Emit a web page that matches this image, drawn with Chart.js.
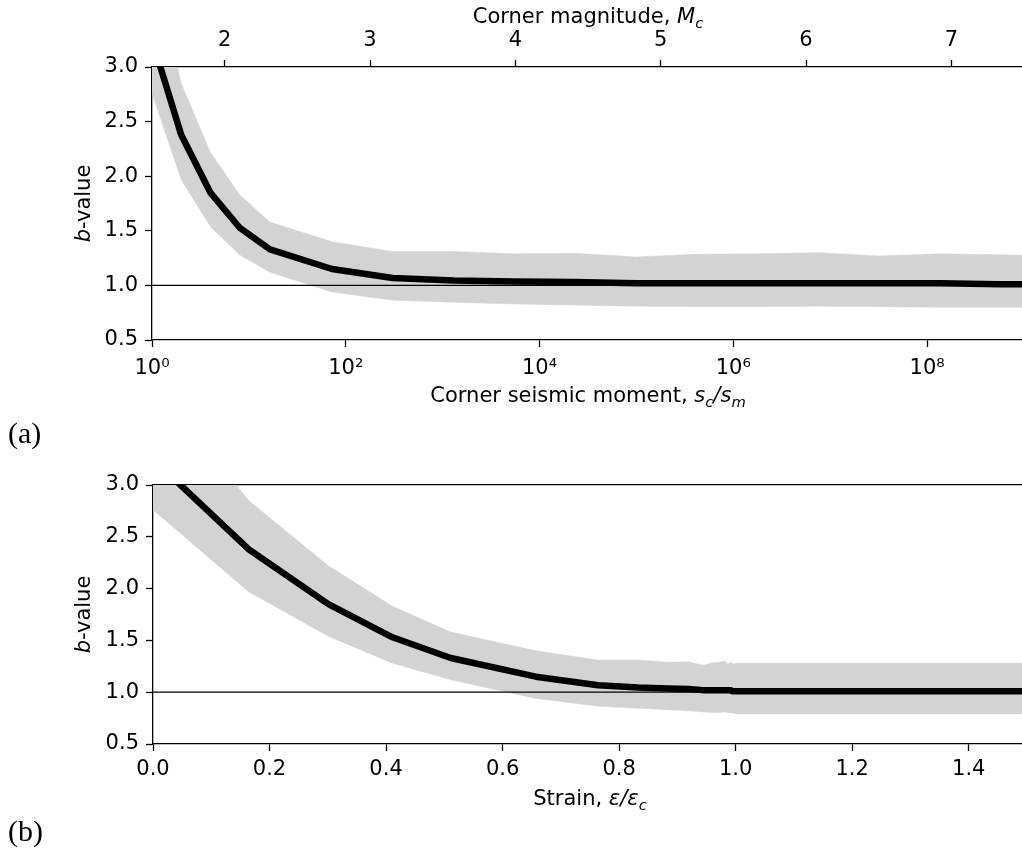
<!DOCTYPE html>
<html><head><meta charset="utf-8">
<script src="https://cdn.jsdelivr.net/npm/chart.js@4.4.1/dist/chart.umd.min.js"></script>
<style>
html,body{margin:0;padding:0;overflow:hidden;background:#fff;width:1022px;height:852px;}
#c1{position:absolute;left:0;top:0;}
#c2{position:absolute;left:0;top:450px;}
</style></head><body>
<canvas id="c1" width="1030" height="450"></canvas>
<canvas id="c2" width="1030" height="402"></canvas>
<script>
// ---- data ----
const momentRatio = [1, 2, 4, 8, 16.5, 72, 305, 1300, 5500, 23000, 1.0e5, 4.2e5, 1.8e6, 7.6e6, 3.2e7, 1.35e8, 5.7e8, 2.4e9];
const strain      = [0, 0.164, 0.301, 0.411, 0.511, 0.657, 0.764, 0.833, 0.884, 0.919, 0.944, 0.961, 0.973, 0.981, 0.987, 0.991, 0.994, 0.997];
const bMid   = [3.25, 2.38, 1.85, 1.53, 1.33, 1.15, 1.068, 1.045, 1.035, 1.03, 1.02, 1.02, 1.02, 1.02, 1.02, 1.02, 1.01, 1.01];
const bUpper = [4.00, 2.85, 2.22, 1.83, 1.58, 1.40, 1.31, 1.31, 1.29, 1.295, 1.26, 1.285, 1.29, 1.30, 1.27, 1.29, 1.28, 1.27];
const bLower = [2.76, 1.97, 1.54, 1.28, 1.12, 0.94, 0.865, 0.845, 0.83, 0.82, 0.81, 0.805, 0.805, 0.81, 0.805, 0.80, 0.80, 0.80];
const plateauStrain = [1.0, 1.6];
const plateauMid    = [1.01, 1.01];
const plateauUpper  = [1.28, 1.28];
const plateauLower  = [0.79, 0.79];
const referenceB = [1.0, 1.0];
const momentRange = [1, 1e9];
const magnitudeRange = [1.5, 7.5];
const strainRange = [0, 1.5];
const bRange = [0.5, 3.0];
const momentTicks = [1, 1e2, 1e4, 1e6, 1e8];
const momentTickLabels = ['10⁰', '10²', '10⁴', '10⁶', '10⁸'];
const magnitudeTicks = [2, 3, 4, 5, 6, 7];
const strainTicks = [0, 0.2, 0.4, 0.6, 0.8, 1.0, 1.2, 1.4];
const bTicks = [0.5, 1.0, 1.5, 2.0, 2.5, 3.0];

// ---- styling ----
const FS = 21;
const FAM = '"DejaVu Sans"';
Chart.defaults.font.family = 'DejaVu Sans';
Chart.defaults.font.size = FS;
Chart.defaults.color = '#000';
const BAND = '#d3d3d3';

function pts(xs, ys) { return xs.map((x, i) => ({x: x, y: ys[i]})); }

function drawRich(ctx, segs, x, y, rot, alignLeft) {
  ctx.save();
  ctx.translate(x, y);
  if (rot) ctx.rotate(rot);
  let w = 0;
  const parts = segs.map(s => {
    const size = s.size || (s.sub ? FS * 0.7 : FS);
    const font = (s.it ? 'italic ' : '') + size + 'px ' + (s.fam || FAM);
    ctx.font = font;
    const m = ctx.measureText(s.t).width;
    w += m;
    return {s, font, m};
  });
  let cx = alignLeft ? 0 : -w / 2;
  ctx.fillStyle = '#000';
  ctx.textBaseline = 'alphabetic';
  ctx.textAlign = 'left';
  for (const p of parts) {
    ctx.font = p.font;
    ctx.fillText(p.s.t, cx, p.s.sub ? FS * 0.22 : 0);
    cx += p.m;
  }
  ctx.restore();
}

function labelPlugin(items) {
  return {
    id: 'richLabels',
    afterDraw(chart) {
      const ctx = chart.ctx;
      items.forEach(it => drawRich(ctx, it.segs, it.x, it.y, it.rot, it.left));
    }
  };
}

function axisStyle(extra) {
  return Object.assign({
    grid: {display: true, drawOnChartArea: false, drawTicks: true, tickLength: 7, tickWidth: 1.3, tickColor: '#000', color: '#000'},
    border: {display: true, color: '#000', width: 1.3},
  }, extra);
}

function datasets(xs, mid, up, lo, refX) {
  return [
    {data: pts(xs, mid), borderColor: '#000', borderWidth: 6.5, pointRadius: 0, tension: 0, fill: false, order: 0, borderJoinStyle: 'round', xAxisID: 'x', yAxisID: 'y'},
    {data: pts(refX, referenceB), borderColor: '#000', borderWidth: 1.3, pointRadius: 0, fill: false, order: 1, xAxisID: 'x', yAxisID: 'y'},
    {data: pts(xs, up), borderColor: BAND, borderWidth: 0.5, backgroundColor: BAND, pointRadius: 0, tension: 0, fill: '+1', order: 3, xAxisID: 'x', yAxisID: 'y'},
    {data: pts(xs, lo), borderColor: BAND, borderWidth: 0.5, backgroundColor: BAND, pointRadius: 0, tension: 0, fill: false, order: 4, xAxisID: 'x', yAxisID: 'y'}
  ];
}

const common = {
  responsive: false,
  animation: false,
  events: [],
  plugins: {legend: {display: false}, tooltip: {enabled: false}},
};

// ---- panel (a) ----
new Chart(document.getElementById('c1'), {
  type: 'line',
  data: {datasets: datasets(momentRatio, bMid, bUpper, bLower, momentRange)},
  options: Object.assign({}, common, {
    layout: {padding: {left: 0, top: 0, right: 6, bottom: 0}},
    scales: {
      x: axisStyle({
        type: 'logarithmic', position: 'bottom', min: momentRange[0], max: momentRange[1],
        afterBuildTicks: s => { s.ticks = momentTicks.map(v => ({value: v})); },
        ticks: {padding: 9, maxRotation: 0, autoSkip: false, callback: (v, i) => momentTickLabels[i]},
        afterFit: s => { s.height = 450 - 340; }
      }),
      xTop: axisStyle({
        type: 'linear', position: 'top', min: magnitudeRange[0], max: magnitudeRange[1],
        afterBuildTicks: s => { s.ticks = magnitudeTicks.map(v => ({value: v})); },
        ticks: {padding: 7, maxRotation: 0, autoSkip: false, callback: v => String(v)},
        afterFit: s => { s.height = 67; }
      }),
      y: axisStyle({
        type: 'linear', position: 'left', min: bRange[0], max: bRange[1],
        afterBuildTicks: s => { s.ticks = bTicks.map(v => ({value: v})); },
        ticks: {padding: 7, autoSkip: false, callback: v => v.toFixed(1)},
        afterFit: s => { s.width = 152; }
      })
    }
  }),
  plugins: [labelPlugin([
    {segs: [{t: 'Corner magnitude, '}, {t: 'M', it: true}, {t: 'c', it: true, sub: true}], x: 588, y: 23},
    {segs: [{t: 'Corner seismic moment, '}, {t: 's', it: true}, {t: 'c', it: true, sub: true}, {t: '/', it: true}, {t: 's', it: true}, {t: 'm', it: true, sub: true}], x: 588, y: 402},
    {segs: [{t: 'b', it: true}, {t: '-value'}], x: 90, y: 203.5, rot: -Math.PI / 2},
    {segs: [{t: '(a)', size: 30, fam: '"Liberation Serif"'}], x: 8, y: 443, left: true}
  ])]
});

// ---- panel (b) ----
new Chart(document.getElementById('c2'), {
  type: 'line',
  data: {datasets: datasets(strain.concat(plateauStrain), bMid.concat(plateauMid), bUpper.concat(plateauUpper), bLower.concat(plateauLower), strainRange)},
  options: Object.assign({}, common, {
    layout: {padding: {left: 0, top: 0, right: 3, bottom: 0}},
    scales: {
      x: axisStyle({
        type: 'linear', position: 'bottom', min: strainRange[0], max: strainRange[1],
        afterBuildTicks: s => { s.ticks = strainTicks.map(v => ({value: v})); },
        ticks: {padding: 5.5, maxRotation: 0, autoSkip: false, callback: v => v.toFixed(1)},
        afterFit: s => { s.height = 402 - 294; }
      }),
      xTop: {
        type: 'linear', position: 'top', min: strainRange[0], max: strainRange[1],
        grid: {display: false, drawTicks: false},
        border: {display: true, color: '#000', width: 1.3},
        ticks: {display: false},
        afterFit: s => { s.height = 35; }
      },
      y: axisStyle({
        type: 'linear', position: 'left', min: bRange[0], max: bRange[1],
        afterBuildTicks: s => { s.ticks = bTicks.map(v => ({value: v})); },
        ticks: {padding: 7, autoSkip: false, callback: v => v.toFixed(1)},
        afterFit: s => { s.width = 153; }
      })
    }
  }),
  plugins: [labelPlugin([
    {segs: [{t: 'Strain, '}, {t: 'ε', it: true}, {t: '/', it: true}, {t: 'ε', it: true}, {t: 'c', it: true, sub: true}], x: 590, y: 355},
    {segs: [{t: 'b', it: true}, {t: '-value'}], x: 90, y: 164.5, rot: -Math.PI / 2},
    {segs: [{t: '(b)', size: 30, fam: '"Liberation Serif"'}], x: 8, y: 391, left: true}
  ])]
});
</script>
</body></html>
